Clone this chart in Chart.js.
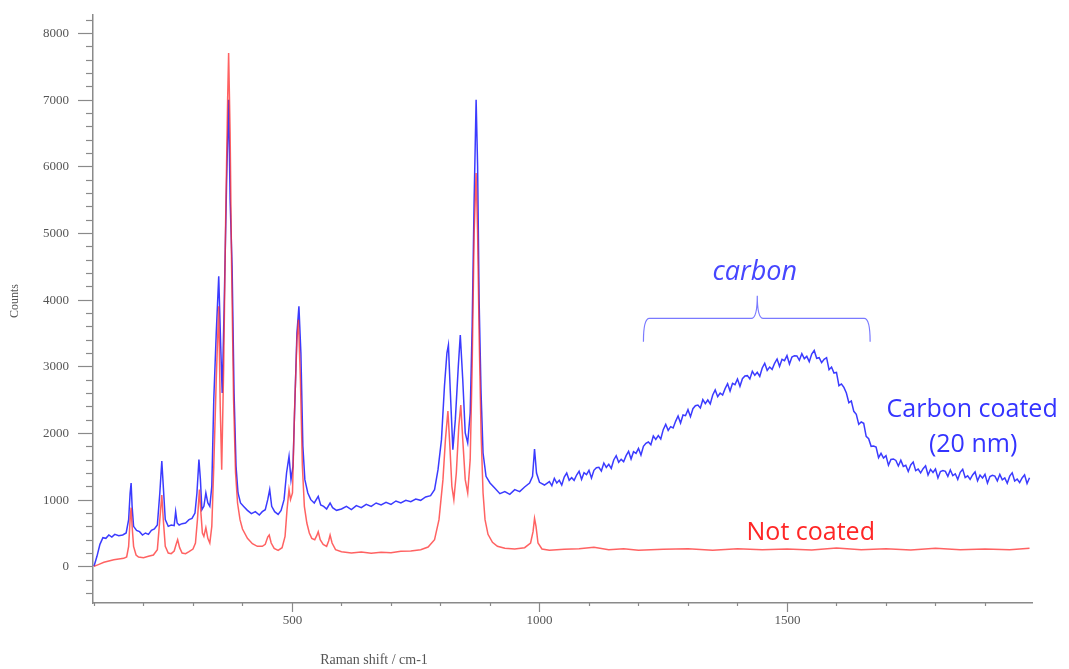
<!DOCTYPE html>
<html>
<head>
<meta charset="utf-8">
<script src="https://cdn.jsdelivr.net/npm/chart.js@4.4.1/dist/chart.umd.min.js"></script>
<style>
  html, body { margin: 0; padding: 0; background: #fff; }
  #wrap { width: 1069px; height: 669px; }
</style>
</head>
<body>
<div id="wrap"><canvas id="ramanChart" width="1069" height="669"></canvas></div>
<script>
// Raman shift (cm-1) and counts
const shiftRed = [100,110,120,130,140,150,160,166,170,173,175,177,180,185,190,200,210,220,228,233,237,240,244,250,256,262,266,269,273,278,285,292,300,305,309,313,316,319,322,326,330,334,338,342,347,352,355,358,362,366,370,372,375,378,382,386,390,395,400,410,420,430,440,446,451,454,458,464,472,480,486,490,494,497,501,505,510,513,517,521,525,530,535,540,546,550,553,557,563,570,574,577,581,588,600,620,640,660,680,700,720,740,760,775,788,797,805,810,815,819,823,827,832,837,841,845,850,855,860,864,868,872,875,878,882,886,890,896,905,915,930,950,970,982,987,990,993,997,1005,1020,1050,1080,1110,1140,1170,1200,1250,1300,1350,1400,1450,1500,1550,1600,1650,1700,1750,1800,1850,1900,1950,1990];
const countsRed = [0,30,60,80,100,110,120,140,300,700,880,600,300,170,140,130,150,170,250,700,1070,700,300,200,190,230,330,400,280,200,190,220,260,350,700,1150,800,500,450,580,420,350,600,1500,2800,3900,2400,1450,3000,5200,7000,7700,6500,4500,2500,1400,950,700,560,420,340,300,300,330,440,470,350,270,240,280,450,850,1150,1000,1100,2300,3400,3700,2800,1500,900,650,500,420,400,460,520,400,330,300,380,470,350,250,220,200,215,195,210,205,225,230,250,290,400,700,1300,1900,2330,1800,1200,1000,1400,2100,2420,1900,1300,1100,1600,3000,5000,5900,5000,3500,2000,1100,700,480,360,300,270,260,280,350,520,720,600,350,260,240,255,265,285,250,265,240,255,265,240,265,250,260,245,275,250,265,245,270,250,260,250,270];

// coated sample: sharp bands up to 1010 cm-1
const shiftBluePeaks = [100,106,112,118,124,130,136,142,150,158,165,170,173,175,177,180,186,192,198,204,210,216,222,228,233,237,240,244,250,256,262,265,268,272,278,285,292,298,304,308,312,315,318,322,326,330,334,338,342,347,352,356,359,363,368,372,375,379,383,387,391,396,402,410,418,426,434,440,446,451,455,459,465,472,478,484,489,494,498,502,506,510,514,518,522,526,532,538,545,553,558,564,570,577,582,590,600,610,620,630,640,650,660,670,680,690,700,710,720,730,740,750,760,770,780,788,795,802,808,813,816,820,825,830,836,840,845,850,855,860,864,868,872,875,878,882,886,892,900,910,920,930,940,950,960,970,980,986,990,994,1000,1010];
const countsBluePeaks = [0,150,330,430,420,470,440,480,460,470,500,700,1100,1250,900,600,540,520,470,500,480,540,560,620,1100,1580,1200,700,600,620,610,820,650,620,640,650,700,720,800,1100,1600,1300,850,900,1100,950,900,1200,2500,3500,4350,3300,2600,3900,5800,7000,5500,4500,2600,1500,1100,950,900,840,790,820,770,820,850,1000,1150,900,820,780,840,1000,1400,1650,1300,1500,2500,3500,3900,3200,1800,1300,1100,1000,950,1050,920,900,860,950,880,840,860,900,850,910,880,930,900,950,920,960,930,980,950,990,970,1010,990,1040,1060,1150,1450,1900,2700,3200,3320,2600,1750,2200,3000,3470,2800,2000,1850,2300,3600,5500,7000,6000,4000,2600,1700,1350,1250,1170,1090,1120,1080,1150,1120,1190,1250,1350,1760,1400,1260,1220];

// coated sample: noisy carbon hump, 1020-1990 cm-1
const shiftBlueCarbon = [1020,1025,1030,1035,1040,1045,1050,1055,1060,1065,1070,1075,1080,1085,1090,1095,1100,1105,1110,1115,1120,1125,1130,1135,1140,1145,1150,1155,1160,1165,1170,1175,1180,1185,1190,1195,1200,1205,1210,1215,1220,1225,1230,1235,1240,1245,1250,1255,1260,1265,1270,1275,1280,1285,1290,1295,1300,1305,1310,1315,1320,1325,1330,1335,1340,1345,1350,1355,1360,1365,1370,1375,1380,1385,1390,1395,1400,1405,1410,1415,1420,1425,1430,1435,1440,1445,1450,1455,1460,1465,1470,1475,1480,1485,1490,1495,1500,1505,1510,1515,1520,1525,1530,1535,1540,1545,1550,1555,1560,1565,1570,1575,1580,1585,1590,1595,1600,1605,1610,1615,1620,1625,1630,1635,1640,1645,1650,1655,1660,1665,1670,1675,1680,1685,1690,1695,1700,1705,1710,1715,1720,1725,1730,1735,1740,1745,1750,1755,1760,1765,1770,1775,1780,1785,1790,1795,1800,1805,1810,1815,1820,1825,1830,1835,1840,1845,1850,1855,1860,1865,1870,1875,1880,1885,1890,1895,1900,1905,1910,1915,1920,1925,1930,1935,1940,1945,1950,1955,1960,1965,1970,1975,1980,1985,1990];
const countsBlueCarbon = [1270,1210,1320,1250,1290,1220,1340,1400,1290,1330,1290,1370,1425,1305,1405,1375,1440,1325,1440,1480,1485,1430,1550,1485,1530,1470,1595,1660,1560,1605,1570,1660,1725,1610,1720,1695,1770,1670,1800,1845,1865,1825,1955,1905,1960,1910,2050,2130,2040,2095,2075,2175,2255,2150,2270,2260,2350,2245,2365,2410,2420,2375,2500,2440,2495,2435,2570,2645,2545,2600,2570,2665,2740,2630,2745,2725,2810,2700,2815,2855,2860,2810,2925,2865,2910,2850,2975,3045,2940,2990,2955,3045,3110,3000,3105,3085,3160,3035,3140,3160,3155,3090,3190,3115,3150,3070,3185,3238,3120,3130,3055,3105,3130,2950,2990,2900,2910,2710,2735,2685,2600,2455,2480,2325,2280,2130,2165,2145,1950,1915,1800,1805,1790,1630,1695,1625,1660,1517,1604,1611,1588,1505,1592,1499,1516,1423,1520,1563,1436,1459,1402,1465,1508,1371,1454,1407,1460,1326,1422,1438,1424,1350,1446,1362,1388,1304,1410,1456,1332,1358,1304,1370,1416,1282,1368,1324,1380,1248,1347,1365,1353,1282,1380,1298,1327,1245,1353,1402,1280,1308,1257,1325,1373,1242,1330];

const shiftBlue = shiftBluePeaks.concat(shiftBlueCarbon);
const countsBlue = countsBluePeaks.concat(countsBlueCarbon);

const xMajorLabels = [500, 1000, 1500];
const yMajorLabels = [0, 1000, 2000, 3000, 4000, 5000, 6000, 7000, 8000];

const axisGray = '#8a8a8a';
const labelGray = '#555555';
const serif = '"Liberation Serif", "DejaVu Serif", serif';

// tick marks, tick labels and free-standing texts
const decorPlugin = {
    id: 'decor',
    afterDraw(chart) {
        const ctx = chart.ctx;
        const xs = chart.scales.x;
        const ys = chart.scales.y;
        const area = chart.chartArea;
        ctx.save();
        ctx.strokeStyle = axisGray;
        ctx.lineWidth = 1.2;
        ctx.fillStyle = labelGray;
        ctx.font = '13px ' + serif;

        // x ticks every 100
        ctx.textAlign = 'center';
        ctx.textBaseline = 'top';
        for (let v = 100; v <= 1900; v += 100) {
            const px = Math.round(xs.getPixelForValue(v)) + 0.5;
            const major = xMajorLabels.includes(v);
            ctx.beginPath();
            ctx.moveTo(px, area.bottom);
            ctx.lineTo(px, area.bottom + (major ? 9 : 3));
            ctx.stroke();
            if (major) ctx.fillText(String(v), px, area.bottom + 11);
        }
        // y ticks every 200
        ctx.textAlign = 'right';
        ctx.textBaseline = 'middle';
        for (let v = -400; v <= 8200; v += 200) {
            const py = Math.round(ys.getPixelForValue(v)) + 0.5;
            const major = yMajorLabels.includes(v);
            ctx.beginPath();
            ctx.moveTo(area.left, py);
            ctx.lineTo(area.left - (major ? 15 : 7), py);
            ctx.stroke();
            if (major) ctx.fillText(String(v), area.left - 24, py);
        }

        // axis titles
        ctx.textAlign = 'center';
        ctx.font = '12px ' + serif;
        ctx.save();
        ctx.translate(15, 301);
        ctx.rotate(-Math.PI / 2);
        ctx.fillText('Counts', 0, 0);
        ctx.restore();
        ctx.font = '14px ' + serif;
        ctx.fillText('Raman shift / cm-1', 374, 660);

        // carbon bracket
        const bl = xs.getPixelForValue(1210), br = xs.getPixelForValue(1668), bm = xs.getPixelForValue(1440);
        const by = ys.getPixelForValue(3720), bEnd = ys.getPixelForValue(3370), bTop = ys.getPixelForValue(4060);
        ctx.strokeStyle = '#7a7aff';
        ctx.lineWidth = 1.2;
        ctx.beginPath();
        ctx.moveTo(bl, bEnd);
        ctx.quadraticCurveTo(bl, by, bl + 6, by);
        ctx.lineTo(bm - 6, by);
        ctx.quadraticCurveTo(bm, by, bm, bTop);
        ctx.quadraticCurveTo(bm, by, bm + 6, by);
        ctx.lineTo(br - 6, by);
        ctx.quadraticCurveTo(br, by, br, bEnd);
        ctx.stroke();

        ctx.fillStyle = '#4646ff';
        ctx.font = 'italic 27px "Open Sans", sans-serif';
        ctx.fillText('carbon', xs.getPixelForValue(1435), ys.getPixelForValue(4410));

        ctx.fillStyle = '#3434ff';
        ctx.font = '25px "Open Sans", sans-serif';
        ctx.fillText('Carbon coated', xs.getPixelForValue(1874), ys.getPixelForValue(2340));
        ctx.fillText('(20 nm)', xs.getPixelForValue(1876), ys.getPixelForValue(1820));

        ctx.fillStyle = '#ff2626';
        ctx.fillText('Not coated', xs.getPixelForValue(1548), ys.getPixelForValue(500));
        ctx.restore();
    }
};

function fixPadding(scale) {
    scale.paddingTop = 0;
    scale.paddingBottom = 0;
    scale.paddingLeft = 0;
    scale.paddingRight = 0;
}

const ctx = document.getElementById('ramanChart').getContext('2d');
const ramanChart = new Chart(ctx, {
    type: 'line',
    data: {
        datasets: [
            {
                label: 'Not coated',
                data: shiftRed.map((s, i) => ({ x: s, y: countsRed[i] })),
                borderColor: 'rgba(255, 45, 45, 0.75)',
                borderWidth: 1.5,
                pointRadius: 0,
                tension: 0
            },
            {
                label: 'Carbon coated (20 nm)',
                data: shiftBlue.map((s, i) => ({ x: s, y: countsBlue[i] })),
                borderColor: 'rgba(25, 25, 255, 0.85)',
                borderWidth: 1.5,
                pointRadius: 0,
                tension: 0
            }
        ]
    },
    options: {
        responsive: false,
        animation: false,
        layout: { padding: { left: 0, right: 37, top: 15, bottom: 0 } },
        plugins: {
            legend: { display: false },
            tooltip: { enabled: false }
        },
        scales: {
            x: {
                type: 'linear',
                min: 98,
                max: 1995,
                afterFit: function (scale) { scale.height = 66; fixPadding(scale); },
                grid: { display: false, drawTicks: false },
                border: { display: true, color: axisGray, width: 1.5 },
                ticks: { display: false, stepSize: 100 }
            },
            y: {
                type: 'linear',
                min: -550,
                max: 8270,
                afterFit: function (scale) { scale.width = 93; fixPadding(scale); },
                grid: { display: false, drawTicks: false },
                border: { display: true, color: axisGray, width: 1.5 },
                ticks: { display: false, stepSize: 200 }
            }
        }
    },
    plugins: [decorPlugin]
});
</script>
</body>
</html>
